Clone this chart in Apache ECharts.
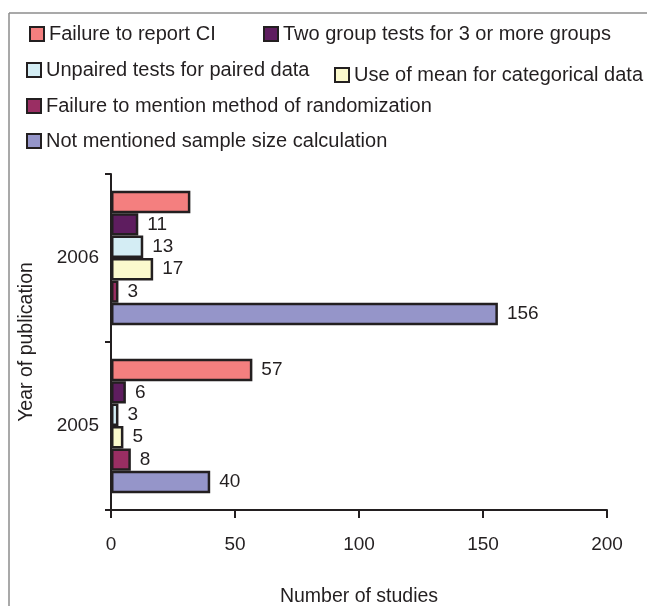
<!DOCTYPE html>
<html>
<head>
<meta charset="utf-8">
<script src="https://cdn.jsdelivr.net/npm/echarts@6/dist/echarts.min.js"></script>
<style>
  html, body { margin: 0; padding: 0; background: #fff; }
  #chart { width: 647px; height: 606px; }
</style>
</head>
<body>
<div id="chart"></div>
<script>
var years = ["2006", "2005"];
var seriesNames = [
    "Failure to report CI",
    "Two group tests for 3 or more groups",
    "Unpaired tests for paired data",
    "Use of mean for categorical data",
    "Failure to mention method of randomization",
    "Not mentioned sample size calculation"
];
// values per series, in the order of years
var failureCI = [32, 57];
var twoGroup = [11, 6];
var unpaired = [13, 3];
var meanCategorical = [17, 5];
var randomization = [3, 8];
var sampleSize = [156, 40];
var allValues = [failureCI, twoGroup, unpaired, meanCategorical, randomization, sampleSize];
// labels that are not printed in the original (series index, year index)
var unlabelled = [[0, 0]];
var xTicks = [0, 50, 100, 150, 200];

var colors = ["#f47f7f", "#5e1d5f", "#d4edf4", "#fbf9cd", "#9a2e63", "#9595c9"];
var ink = "#231f20";
var font = "Liberation Sans";

// legend item positions (left, top)
var legendPos = [[29, 24], [263, 24], [26, 60], [334, 65], [26, 96], [26, 131]];

var dom = document.getElementById("chart");
var myChart = echarts.init(dom);

var series = allValues.map(function (vals, s) {
    return {
        name: seriesNames[s],
        type: "bar",
        barGap: "0%",
        barCategoryGap: "20%",
        itemStyle: { color: colors[s], borderColor: ink, borderWidth: 2.5 },
        label: {
            show: true,
            position: "right",
            distance: 9,
            color: ink,
            fontSize: 19,
            fontFamily: font
        },
        data: vals.map(function (v, i) {
            var hide = unlabelled.some(function (p) { return p[0] === s && p[1] === i; });
            return hide ? { value: v, label: { show: false } } : v;
        })
    };
});

var legends = seriesNames.map(function (n, s) {
    return {
        data: [n],
        left: legendPos[s][0],
        top: legendPos[s][1],
        padding: 0,
        itemWidth: 14,
        itemHeight: 14,
        itemGap: 0,
        icon: "rect",
        selectedMode: false,
        itemStyle: { borderColor: ink, borderWidth: 2 },
        textStyle: { color: ink, fontSize: 20, fontFamily: font }
    };
});

option = {
    backgroundColor: "#fff",
    animation: false,
    legend: legends,
    grid: { left: 111, right: 40, top: 174, bottom: 96, containLabel: false, outerBoundsMode: "none" },
    xAxis: {
        type: "value",
        min: xTicks[0],
        max: xTicks[xTicks.length - 1],
        interval: xTicks[1] - xTicks[0],
        name: "Number of studies",
        nameLocation: "middle",
        nameGap: 77,
        nameTextStyle: { color: ink, fontSize: 19.5, fontFamily: font },
        axisLine: { show: true, lineStyle: { color: ink, width: 2 } },
        axisTick: { show: true, length: 8, lineStyle: { color: ink, width: 2 } },
        axisLabel: { color: ink, fontSize: 19, fontFamily: font, margin: 25 },
        splitLine: { show: false }
    },
    yAxis: {
        type: "category",
        data: years,
        inverse: true,
        name: "Year of publication",
        nameLocation: "middle",
        nameRotate: 90,
        nameGap: 74,
        nameTextStyle: { color: ink, fontSize: 19.5, fontFamily: font },
        axisLine: { show: true, lineStyle: { color: ink, width: 2 } },
        axisTick: { show: true, length: 6, lineStyle: { color: ink, width: 2 } },
        axisLabel: { color: ink, fontSize: 19, fontFamily: font, margin: 12 },
        splitLine: { show: false }
    },
    graphic: [
        { type: "line", shape: { x1: 9, y1: 13, x2: 9, y2: 606 }, style: { stroke: "#8c8c8c", lineWidth: 1.5 } },
        { type: "line", shape: { x1: 9, y1: 13, x2: 647, y2: 13 }, style: { stroke: "#8c8c8c", lineWidth: 1.5 } }
    ],
    series: series
};

if (option && typeof option === "object") {
    myChart.setOption(option, true);
}
</script>
</body>
</html>
